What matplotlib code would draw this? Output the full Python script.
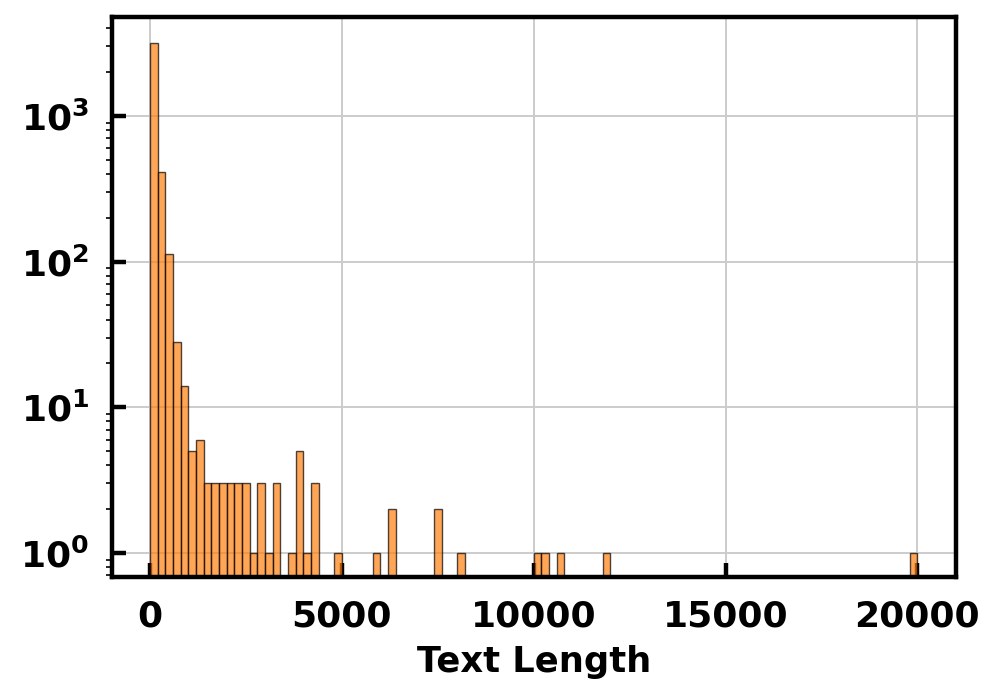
import matplotlib
matplotlib.use("Agg")
import matplotlib.pyplot as plt
import numpy as np

# histogram of text lengths, bins of 200 from 0 to 20000
bin_edges = np.arange(0, 20001, 200)
counts = [0] * 100
nonzero = {
    0: 3180, 1: 410, 2: 113, 3: 28, 4: 14, 5: 5, 6: 6,
    7: 3, 8: 3, 9: 3, 10: 3, 11: 3, 12: 3, 13: 1, 14: 3, 15: 1, 16: 3,
    18: 1, 19: 5, 20: 1, 21: 3, 24: 1, 29: 1, 31: 2, 37: 2, 40: 1,
    50: 1, 51: 1, 53: 1, 59: 1, 99: 1,
}
for k, v in nonzero.items():
    counts[k] = v

y_ticks = [1, 10, 100, 1000]
y_ticklabels = [r"$\mathbf{10^{0}}$", r"$\mathbf{10^{1}}$", r"$\mathbf{10^{2}}$", r"$\mathbf{10^{3}}$"]
x_ticks = [0, 5000, 10000, 15000, 20000]

fig = plt.figure(figsize=(4.985, 3.5), dpi=200)
ax = fig.add_axes([0.112, 0.1753, 0.8466, 0.80])

ax.hist(bin_edges[:-1], bins=bin_edges, weights=counts, log=True,
        color="tab:orange", alpha=0.7, edgecolor="black", linewidth=0.5)

ax.set_xlim(-1000, 21000)
ax.set_ylim(0.68, 4750)
ax.set_yticks(y_ticks)
ax.set_yticklabels(y_ticklabels)
ax.set_xticks(x_ticks)
ax.set_xticklabels([str(t) for t in x_ticks])

ax.grid(True, which="major", color="#cccccc", linewidth=0.7)
ax.set_axisbelow(True)

for s in ax.spines.values():
    s.set_linewidth(1.6)
    s.set_zorder(5)

ax.tick_params(axis="both", which="major", direction="in", length=5, width=1.6,
               pad=8, labelsize=13, zorder=6)
ax.tick_params(axis="y", which="minor", direction="out", length=2, width=0.6)
for lbl in ax.get_xticklabels():
    lbl.set_fontweight("bold")

ax.set_xlabel("Text Length", fontsize=12.7, fontweight="bold", labelpad=4)

fig.savefig("out.png", dpi=200)
